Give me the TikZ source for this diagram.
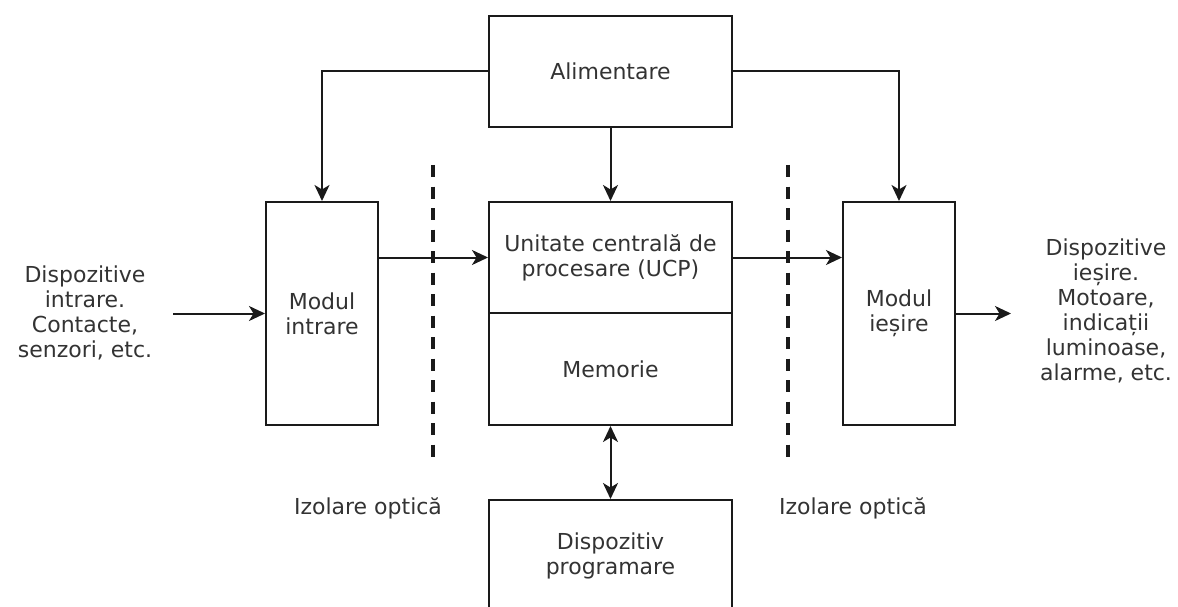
\documentclass[tikz,border=0pt]{standalone}
\usepackage{fontspec}
\setmainfont{DejaVu Sans}
\usetikzlibrary{arrows.meta}
\definecolor{txt}{HTML}{333333}
\definecolor{ln}{HTML}{1A1A1A}
\tikzset{
  box/.style={draw=ln, line width=2pt, fill=white, text=txt, align=center, inner sep=0pt,
    font=\fontsize{22}{25}\selectfont},
  lbl/.style={text=txt, align=center, inner sep=0pt, font=\fontsize{22}{25}\selectfont},
  conn/.style={draw=ln, line width=2pt, -{Stealth[length=16pt,width=15pt,inset=4.5pt]}},
  biconn/.style={draw=ln, line width=2pt, {Stealth[length=16pt,width=15pt,inset=4.5pt]}-{Stealth[length=16pt,width=15pt,inset=4.5pt]}},
  iso/.style={draw=ln, line width=4pt, dash pattern=on 12pt off 9.5pt}
}
\begin{document}
\begin{tikzpicture}[x=1pt,y=-1pt]
\useasboundingbox (0,0) rectangle (1178,607);
\clip (0,0) rectangle (1178,607);
% boxes
\node[box, minimum width=243pt, minimum height=111pt] (alim) at (610.5,71.5) {Alimentare};
\node[box, minimum width=112pt, minimum height=223pt] (min) at (322,313.5) {Modul\\intrare};
\node[box, minimum width=243pt, minimum height=111pt] (ucp) at (610.5,257.5) {Unitate centrală de\\procesare (UCP)};
\node[box, minimum width=243pt, minimum height=112pt] (mem) at (610.5,369) {Memorie};
\node[box, minimum width=112pt, minimum height=223pt] (mout) at (899,313.5) {Modul\\ieșire};
\node[box, minimum width=243pt, minimum height=112pt] (prog) at (610.5,556) {Dispozitiv\\programare};
% texts
\node[lbl] (inp) at (85,313) {Dispozitive\\intrare.\\Contacte,\\senzori, etc.};
\node[lbl] (outp) at (1106,310.5) {Dispozitive\\ieșire.\\Motoare,\\indicații\\luminoase,\\alarme, etc.};
\node[lbl] (iso1) at (368,508) {Izolare optică};
\node[lbl] (iso2) at (853,508) {Izolare optică};
% isolation lines
\coordinate (d1a) at (433,165); \coordinate (d1b) at (433,464);
\coordinate (d2a) at (788,165); \coordinate (d2b) at (788,464);
\draw[iso] (d1a) -- (d1b);
\draw[iso] (d2a) -- (d2b);
% connectors
\draw[conn] (alim.west) -| (min.north);
\draw[conn] (alim.east) -| (mout.north);
\draw[conn] (alim.south) -- (ucp.north);
\draw[conn] (min.east |- ucp.west) -- (ucp.west);
\draw[conn] (ucp.east) -- (ucp.east -| mout.west);
\coordinate (inStart) at (173,313.5);
\coordinate (outEnd) at (1011,313.5);
\draw[conn] (inStart) -- (min.west);
\draw[conn] (mout.east) -- (outEnd);
\draw[biconn] (mem.south) -- (prog.north);
\end{tikzpicture}
\end{document}
